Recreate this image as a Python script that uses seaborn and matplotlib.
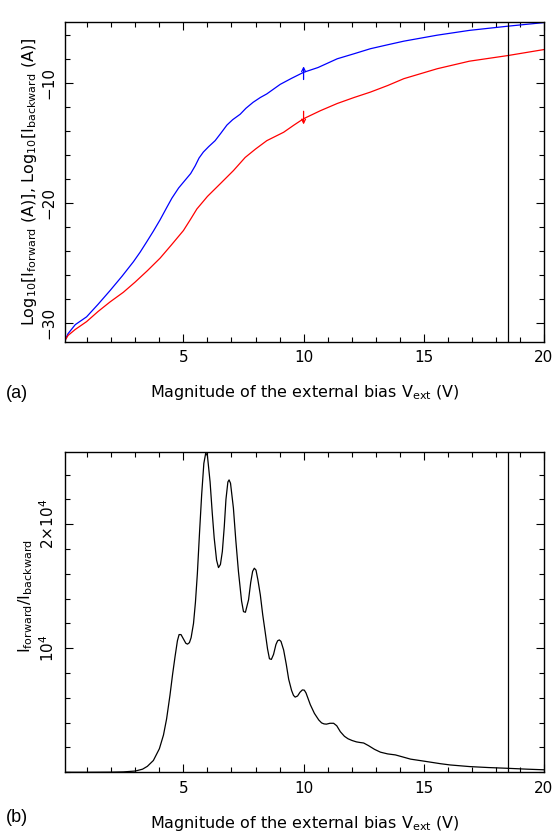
import numpy as np
import pandas as pd
import matplotlib
matplotlib.use('Agg')
import matplotlib.pyplot as plt
from matplotlib.ticker import MultipleLocator, FixedLocator
import seaborn as sns

# datos (a): log10 de las corrientes
v_fwd = [0.05, 0.2, 0.5, 0.97, 1.45, 1.95, 2.45, 2.92, 3.2, 3.47, 3.75, 4.03, 4.3, 4.52, 4.8, 5.07, 5.3, 5.49,
         5.65, 5.83, 6.05, 6.32, 6.55, 6.81, 7.05, 7.36, 7.6, 7.9, 8.2, 8.47, 8.75, 9.03, 9.5, 10.0, 10.6, 11.4,
         12.1, 12.78, 13.5, 14.17, 15.56, 16.9, 18.5, 20.0]
log_fwd = [-31.55, -30.9, -30.15, -29.5, -28.45, -27.3, -26.1, -24.9, -24.1, -23.25, -22.35, -21.4, -20.4, -19.6,
           -18.75, -18.1, -17.55, -16.9, -16.25, -15.75, -15.3, -14.8, -14.2, -13.5, -13.05, -12.6, -12.1, -11.6,
           -11.2, -10.9, -10.5, -10.1, -9.6, -9.1, -8.7, -7.97, -7.55, -7.13, -6.8, -6.5, -6.0, -5.6, -5.25, -4.95]
v_bwd = [0.05, 0.2, 0.5, 0.97, 1.45, 1.95, 2.5, 2.99, 3.5, 4.03, 4.5, 5.0, 5.3, 5.56, 6.0, 6.53, 7.08, 7.57,
         8.0, 8.47, 9.17, 9.6, 10.0, 10.7, 11.4, 12.1, 12.78, 13.5, 14.17, 15.56, 16.9, 18.5, 20.0]
log_bwd = [-31.55, -31.05, -30.55, -29.9, -29.05, -28.25, -27.45, -26.6, -25.65, -24.6, -23.5, -22.3, -21.35, -20.5,
           -19.45, -18.4, -17.3, -16.2, -15.5, -14.8, -14.1, -13.5, -12.97, -12.3, -11.7, -11.2, -10.75, -10.2,
           -9.63, -8.8, -8.17, -7.7, -7.2]

# datos (b): cociente I_forward / I_backward
v_ratio = [0.07, 1.0, 2.0, 2.5, 3.0, 3.3, 3.5, 3.75, 4.0, 4.17, 4.3, 4.44, 4.55, 4.65, 4.75, 4.82, 4.9, 5.0,
           5.1, 5.17, 5.25, 5.32, 5.42, 5.5, 5.58, 5.67, 5.76, 5.85, 5.93, 6.0, 6.11, 6.2, 6.28, 6.38, 6.46,
           6.54, 6.62, 6.7, 6.77, 6.85, 6.9, 6.96, 7.08, 7.18, 7.29, 7.42, 7.5, 7.58, 7.71, 7.8, 7.88, 7.95,
           8.02, 8.1, 8.2, 8.3, 8.4, 8.5, 8.58, 8.66, 8.75, 8.85, 8.92, 8.99, 9.06, 9.17, 9.28, 9.38, 9.5,
           9.58, 9.65, 9.75, 9.85, 9.95, 10.03, 10.1, 10.18, 10.28, 10.45, 10.63, 10.75, 10.85, 10.95, 11.1,
           11.25, 11.38, 11.53, 11.7, 11.85, 12.02, 12.2, 12.35, 12.5, 12.7, 12.95, 13.2, 13.5, 13.82, 14.1,
           14.45, 15.0, 15.7, 16.1, 16.9, 17.7, 18.5, 19.3, 20.0]
ratio = [0, 0, 10, 30, 100, 250, 480, 950, 1900, 3000, 4300, 6200, 7900, 9300, 10600, 11100, 11100, 10750,
         10400, 10330, 10450, 10850, 12000, 13700, 16000, 19300, 22400, 24900, 25750, 25500, 23400, 20900, 18900, 17100, 16500,
         16750, 17800, 19800, 22000, 23400, 23570, 23300, 21300, 18700, 16180, 13800, 12950, 12900, 13900, 15300, 16200, 16450,
         16300, 15500, 14300, 12700, 11340, 9950, 9150, 9100, 9500, 10300, 10600, 10670, 10550, 9860, 8700, 7500, 6600,
         6200, 6060, 6150, 6450, 6640, 6620, 6400, 5980, 5450, 4750, 4220, 3980, 3900, 3880, 3950,
         3950, 3750, 3270, 2900, 2700, 2560, 2450, 2400, 2360, 2150, 1850, 1620, 1480, 1400, 1250,
         1060, 900, 690, 590, 460, 380, 320, 250, 200]

v_cut = 18.5

df_a = pd.concat([
    pd.DataFrame({'V': v_fwd, 'logI': log_fwd, 'serie': 'forward'}),
    pd.DataFrame({'V': v_bwd, 'logI': log_bwd, 'serie': 'backward'}),
])
df_b = pd.DataFrame({'V': v_ratio, 'ratio': ratio})

sns.set_style('ticks')
plt.rcParams['font.family'] = ['DejaVu Sans']
plt.rcParams['mathtext.default'] = 'regular'
for k in ['text.color', 'axes.labelcolor', 'xtick.color', 'ytick.color', 'axes.edgecolor']:
    plt.rcParams[k] = 'black'

fig = plt.figure(figsize=(5.55, 8.33), dpi=100)
ax1 = fig.add_axes([0.117, 0.5894, 0.863, 0.3842])
ax2 = fig.add_axes([0.117, 0.0729, 0.863, 0.3842])

# panel (a)
sns.lineplot(data=df_a, x='V', y='logI', hue='serie', palette={'forward': '#0000ff', 'backward': '#ff0000'},
             linewidth=0.9, legend=False, sort=False, estimator=None, ax=ax1)
ax1.axvline(v_cut, color='black', linewidth=0.9)
ax1.annotate('', xy=(10.0, -8.6), xytext=(10.0, -9.7),
             arrowprops=dict(arrowstyle='->', color='#0000ff', lw=0.9, mutation_scale=7,
                             shrinkA=0, shrinkB=0))
ax1.annotate('', xy=(10.0, -13.45), xytext=(10.0, -12.35),
             arrowprops=dict(arrowstyle='->', color='#ff0000', lw=0.9, mutation_scale=7,
                             shrinkA=0, shrinkB=0))
ax1.set_xlim(0.07, 20)
ax1.set_ylim(-31.6, -4.9)
ax1.yaxis.set_major_locator(FixedLocator([-30, -20, -10]))
ax1.yaxis.set_minor_locator(MultipleLocator(2))
ax1.set_ylabel(r'Log$_{10}$[I$_{forward}$ (A)], Log$_{10}$[I$_{backward}$ (A)]', fontsize=11.5, labelpad=2)

# panel (b)
sns.lineplot(data=df_b, x='V', y='ratio', color='black', linewidth=0.9, sort=False, estimator=None, ax=ax2)
ax2.axvline(v_cut, color='black', linewidth=0.9)
ax2.set_xlim(0.07, 20)
ax2.set_ylim(0, 25800)
ax2.yaxis.set_major_locator(FixedLocator([10000, 20000]))
ax2.yaxis.set_minor_locator(MultipleLocator(2000))
ax2.set_yticklabels([r'10$^4$', r'2$\times$10$^4$'])
ax2.set_ylabel(r'I$_{forward}$/I$_{backward}$', fontsize=11.5, labelpad=2)
ax2.yaxis.label.set_y(0.55)

for ax, tag in [(ax1, '(a)'), (ax2, '(b)')]:
    ax.xaxis.set_major_locator(FixedLocator([5, 10, 15, 20]))
    ax.xaxis.set_minor_locator(MultipleLocator(1))
    ax.tick_params(which='both', direction='in', top=True, right=True, width=0.8, labelsize=11, pad=6)
    ax.tick_params(which='major', length=6)
    ax.tick_params(which='minor', length=3.5)
    ax.tick_params(axis='y', labelrotation=90)
    for lab in ax.get_yticklabels():
        lab.set_verticalalignment('center')
    for s in ax.spines.values():
        s.set_linewidth(1.0)
    ax.set_xlabel(r'Magnitude of the external bias V$_{ext}$ (V)', fontsize=11.5, labelpad=13)

fig.text(0.01, 1 - 393 / 833, '(a)', fontsize=13, family='Liberation Sans', va='center')
fig.text(0.01, 1 - 818 / 833, '(b)', fontsize=13, family='Liberation Sans', va='center')

fig.savefig('out.png', dpi=100)
